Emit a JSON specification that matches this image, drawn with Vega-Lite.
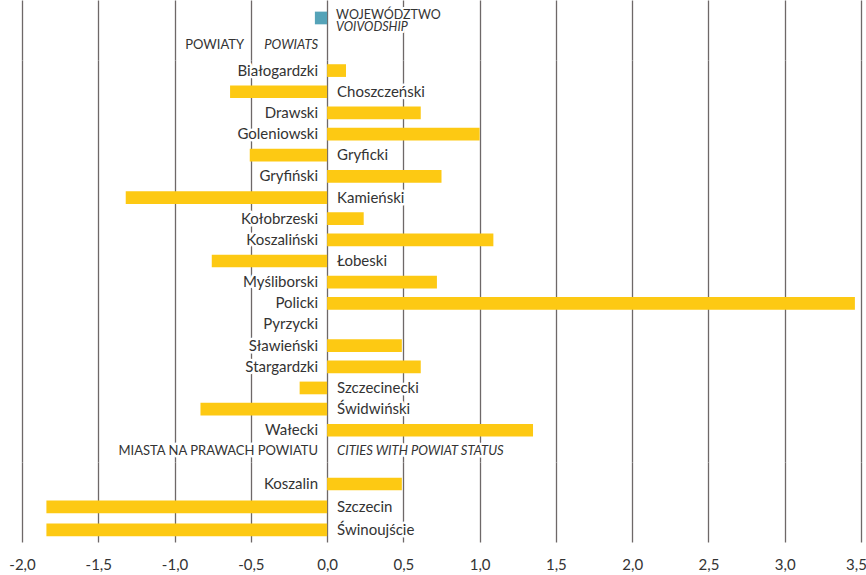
{
  "$schema": "https://vega.github.io/schema/vega-lite/v6.json",
  "padding": {"left": 8, "top": 0, "right": 0, "bottom": 0},
  "spacing": 0,
  "bounds": "flush",
  "background": "white",
  "config": {
    "view": {"stroke": null},
    "text": {"font": "Lato", "fontSize": 15, "color": "#333333"},
    "axis": {"gridColor": "#6e6868", "gridWidth": 1.3, "gridOpacity": 1}
  },
  "datasets": {
    "a": [
      {"row": "Województwo", "value": -0.08, "pl": "WOJEWÓDZTWO", "en": "VOIVODSHIP"},
      {"row": "Powiaty", "value": null, "pl": "POWIATY", "en": "POWIATS"}
    ],
    "b": [
      {"row": "Białogardzki", "value": 0.124},
      {"row": "Choszczeński", "value": -0.636},
      {"row": "Drawski", "value": 0.614},
      {"row": "Goleniowski", "value": 1.0},
      {"row": "Gryficki", "value": -0.507},
      {"row": "Gryfiński", "value": 0.75},
      {"row": "Kamieński", "value": -1.32},
      {"row": "Kołobrzeski", "value": 0.24},
      {"row": "Koszaliński", "value": 1.09},
      {"row": "Łobeski", "value": -0.756},
      {"row": "Myśliborski", "value": 0.72},
      {"row": "Policki", "value": 3.46},
      {"row": "Pyrzycki", "value": 0},
      {"row": "Sławieński", "value": 0.49},
      {"row": "Stargardzki", "value": 0.614},
      {"row": "Szczecinecki", "value": -0.18},
      {"row": "Świdwiński", "value": -0.83},
      {"row": "Wałecki", "value": 1.35},
      {"row": "Miasta", "value": null, "pl": "MIASTA NA PRAWACH POWIATU", "en": "CITIES WITH POWIAT STATUS"}
    ],
    "c": [
      {"row": "Koszalin", "value": 0.49},
      {"row": "Szczecin", "value": -1.84},
      {"row": "Świnoujście", "value": -1.84}
    ]
  },
  "vconcat": [
    {
      "width": 839,
      "height": 60,
      "data": {"name": "a"},
      "encoding": {
        "y": {"field": "row", "type": "nominal", "axis": null,
              "scale": {"domain": ["Województwo", "Powiaty"], "paddingInner": 0, "paddingOuter": 0.11, "align": 0.75}}
      },
      "layer": [
        {
          "mark": {"type": "bar", "height": 12.7, "color": "#55a3b8"},
          "transform": [{"filter": "isValid(datum.value)"}],
          "encoding": {
            "x": {"field": "value", "type": "quantitative",
                  "scale": {"domain": [-2, 3.5], "nice": false, "zero": false},
                  "axis": {"grid": true, "labels": false, "ticks": false, "domain": false, "title": null, "values": [-2, -1.5, -1, -0.5, 0, 0.5, 1, 1.5, 2, 2.5, 3, 3.5]}}
          }
        },
        {
          "mark": {"type": "text", "align": "left", "dx": 9, "dy": -3, "fontSize": 12.5, "fill": "white", "stroke": "white", "strokeWidth": 4, "strokeJoin": "round"},
          "transform": [{"filter": "datum.row == 'Województwo'"}],
          "encoding": {"x": {"datum": 0, "type": "quantitative"}, "text": {"field": "pl"}}
        },
        {
          "mark": {"type": "text", "align": "left", "dx": 9, "dy": 9, "fontSize": 12.5, "fontStyle": "italic", "fill": "white", "stroke": "white", "strokeWidth": 4, "strokeJoin": "round"},
          "transform": [{"filter": "datum.row == 'Województwo'"}],
          "encoding": {"x": {"datum": 0, "type": "quantitative"}, "text": {"field": "en"}}
        },
        {
          "mark": {"type": "text", "align": "left", "dx": 9, "dy": -3, "fontSize": 12.5},
          "transform": [{"filter": "datum.row == 'Województwo'"}],
          "encoding": {"x": {"datum": 0, "type": "quantitative"}, "text": {"field": "pl"}}
        },
        {
          "mark": {"type": "text", "align": "left", "dx": 9, "dy": 9, "fontSize": 12.5, "fontStyle": "italic"},
          "transform": [{"filter": "datum.row == 'Województwo'"}],
          "encoding": {"x": {"datum": 0, "type": "quantitative"}, "text": {"field": "en"}}
        },
        {
          "mark": {"type": "text", "align": "right", "dx": -9, "fontSize": 13, "fontStyle": "italic", "fill": "white", "stroke": "white", "strokeWidth": 5, "strokeJoin": "round"},
          "transform": [{"filter": "datum.row == 'Powiaty'"}],
          "encoding": {"x": {"datum": 0, "type": "quantitative"}, "text": {"field": "en"}}
        },
        {
          "mark": {"type": "text", "align": "right", "dx": -9, "fontSize": 13, "fontStyle": "italic"},
          "transform": [{"filter": "datum.row == 'Powiaty'"}],
          "encoding": {"x": {"datum": 0, "type": "quantitative"}, "text": {"field": "en"}}
        },
        {
          "mark": {"type": "text", "align": "right", "dx": -83, "fontSize": 13, "fill": "white", "stroke": "white", "strokeWidth": 5, "strokeJoin": "round"},
          "transform": [{"filter": "datum.row == 'Powiaty'"}],
          "encoding": {"x": {"datum": 0, "type": "quantitative"}, "text": {"field": "pl"}}
        },
        {
          "mark": {"type": "text", "align": "right", "dx": -83, "fontSize": 13},
          "transform": [{"filter": "datum.row == 'Powiaty'"}],
          "encoding": {"x": {"datum": 0, "type": "quantitative"}, "text": {"field": "pl"}}
        }
      ]
    },
    {
      "width": 839,
      "height": 402,
      "data": {"name": "b"},
      "encoding": {
        "y": {"field": "row", "type": "nominal", "axis": null,
              "scale": {"domain": ["Białogardzki", "Choszczeński", "Drawski", "Goleniowski", "Gryficki", "Gryfiński", "Kamieński", "Kołobrzeski", "Koszaliński", "Łobeski", "Myśliborski", "Policki", "Pyrzycki", "Sławieński", "Stargardzki", "Szczecinecki", "Świdwiński", "Wałecki", "Miasta"], "paddingInner": 0, "paddingOuter": 0}}
      },
      "layer": [
        {
          "mark": {"type": "bar", "height": 12.7, "color": "#fdc913"},
          "transform": [{"filter": "isValid(datum.value)"}],
          "encoding": {
            "x": {"field": "value", "type": "quantitative",
                  "scale": {"domain": [-2, 3.5], "nice": false, "zero": false},
                  "axis": {"grid": true, "labels": false, "ticks": false, "domain": false, "title": null, "values": [-2, -1.5, -1, -0.5, 0, 0.5, 1, 1.5, 2, 2.5, 3, 3.5]}}
          }
        },
        {
          "mark": {"type": "text", "align": "right", "dx": -9, "fill": "white", "stroke": "white", "strokeWidth": 5, "strokeJoin": "round"},
          "transform": [{"filter": "isValid(datum.value) && datum.value >= 0"}],
          "encoding": {"x": {"datum": 0, "type": "quantitative"}, "text": {"field": "row"}}
        },
        {
          "mark": {"type": "text", "align": "right", "dx": -9},
          "transform": [{"filter": "isValid(datum.value) && datum.value >= 0"}],
          "encoding": {"x": {"datum": 0, "type": "quantitative"}, "text": {"field": "row"}}
        },
        {
          "mark": {"type": "text", "align": "left", "dx": 10, "fill": "white", "stroke": "white", "strokeWidth": 5, "strokeJoin": "round"},
          "transform": [{"filter": "isValid(datum.value) && datum.value < 0"}],
          "encoding": {"x": {"datum": 0, "type": "quantitative"}, "text": {"field": "row"}}
        },
        {
          "mark": {"type": "text", "align": "left", "dx": 10},
          "transform": [{"filter": "isValid(datum.value) && datum.value < 0"}],
          "encoding": {"x": {"datum": 0, "type": "quantitative"}, "text": {"field": "row"}}
        },
        {
          "mark": {"type": "text", "align": "right", "dx": -9, "fontSize": 13, "fill": "white", "stroke": "white", "strokeWidth": 5, "strokeJoin": "round"},
          "transform": [{"filter": "datum.row == 'Miasta'"}],
          "encoding": {"x": {"datum": 0, "type": "quantitative"}, "text": {"field": "pl"}}
        },
        {
          "mark": {"type": "text", "align": "right", "dx": -9, "fontSize": 13},
          "transform": [{"filter": "datum.row == 'Miasta'"}],
          "encoding": {"x": {"datum": 0, "type": "quantitative"}, "text": {"field": "pl"}}
        },
        {
          "mark": {"type": "text", "align": "left", "dx": 10, "fontSize": 13, "fontStyle": "italic", "fill": "white", "stroke": "white", "strokeWidth": 5, "strokeJoin": "round"},
          "transform": [{"filter": "datum.row == 'Miasta'"}],
          "encoding": {"x": {"datum": 0, "type": "quantitative"}, "text": {"field": "en"}}
        },
        {
          "mark": {"type": "text", "align": "left", "dx": 10, "fontSize": 13, "fontStyle": "italic"},
          "transform": [{"filter": "datum.row == 'Miasta'"}],
          "encoding": {"x": {"datum": 0, "type": "quantitative"}, "text": {"field": "en"}}
        }
      ]
    },
    {
      "width": 839,
      "height": 80,
      "data": {"name": "c"},
      "encoding": {
        "y": {"field": "row", "type": "nominal", "axis": null,
              "scale": {"domain": ["Koszalin", "Szczecin", "Świnoujście"], "paddingInner": 0, "paddingOuter": 0.24, "align": 0.95}}
      },
      "layer": [
        {
          "mark": {"type": "bar", "height": 12.7, "color": "#fdc913"},
          "encoding": {
            "x": {"field": "value", "type": "quantitative",
                  "scale": {"domain": [-2, 3.5], "nice": false, "zero": false},
                  "axis": {"grid": true, "ticks": false, "tickSize": 0, "domain": false, "title": null,
                           "values": [-2, -1.5, -1, -0.5, 0, 0.5, 1, 1.5, 2, 2.5, 3, 3.5],
                           "labelFlush": false,
                           "labelOffset": {"expr": "datum.value == 3.5 ? -5 : 0"},
                           "labelExpr": "replace(replace(format(datum.value, '.1f'), '.', ','), '−', '-')",
                           "labelFont": "Lato", "labelFontSize": 15, "labelColor": "#333333", "labelPadding": 15}}
          }
        },
        {
          "mark": {"type": "text", "align": "right", "dx": -9, "fill": "white", "stroke": "white", "strokeWidth": 5, "strokeJoin": "round"},
          "transform": [{"filter": "datum.value >= 0"}],
          "encoding": {"x": {"datum": 0, "type": "quantitative"}, "text": {"field": "row"}}
        },
        {
          "mark": {"type": "text", "align": "right", "dx": -9},
          "transform": [{"filter": "datum.value >= 0"}],
          "encoding": {"x": {"datum": 0, "type": "quantitative"}, "text": {"field": "row"}}
        },
        {
          "mark": {"type": "text", "align": "left", "dx": 10, "fill": "white", "stroke": "white", "strokeWidth": 5, "strokeJoin": "round"},
          "transform": [{"filter": "datum.value < 0"}],
          "encoding": {"x": {"datum": 0, "type": "quantitative"}, "text": {"field": "row"}}
        },
        {
          "mark": {"type": "text", "align": "left", "dx": 10},
          "transform": [{"filter": "datum.value < 0"}],
          "encoding": {"x": {"datum": 0, "type": "quantitative"}, "text": {"field": "row"}}
        }
      ]
    }
  ]
}
